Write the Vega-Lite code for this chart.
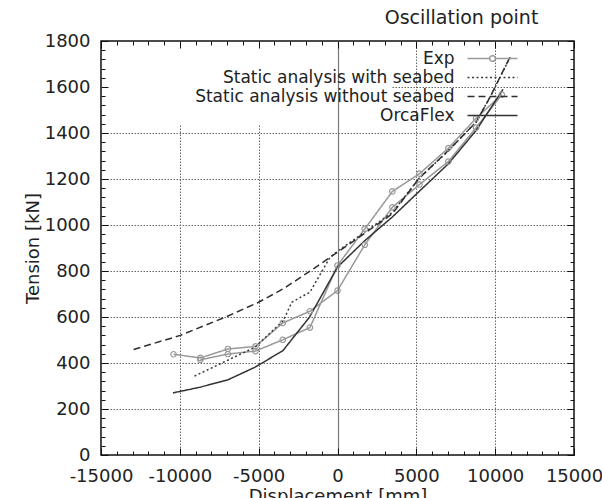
{
  "$schema": "https://vega.github.io/schema/vega-lite/v6.json",
  "width": 473,
  "height": 414,
  "autosize": {"type": "none"},
  "padding": {"left": 101, "top": 41, "right": 28, "bottom": 43},
  "background": "white",
  "title": {
    "text": "Oscillation point",
    "anchor": "middle",
    "frame": "group",
    "dx": 124,
    "offset": -11,
    "baseline": "alphabetic",
    "fontSize": 19,
    "font": "DejaVu Sans",
    "fontWeight": "normal",
    "color": "#222222"
  },
  "config": {
    "font": "DejaVu Sans",
    "view": {"stroke": "#111111", "strokeWidth": 1.5},
    "axis": {
      "labelFont": "DejaVu Sans",
      "titleFont": "DejaVu Sans",
      "labelColor": "#222222",
      "titleColor": "#222222",
      "labelFontSize": 18,
      "titleFontSize": 18,
      "titleFontWeight": "normal",
      "domain": false,
      "tickColor": "#111111",
      "tickWidth": 1,
      "labelOverlap": false,
      "labelFlush": false,
      "gridColor": "#666666",
      "gridDash": [1.5, 1.5],
      "gridWidth": 1
    }
  },
  "data": {
    "values": [
      {"s": "Exp", "i": 1, "d": -10400, "t": 438},
      {"s": "Exp", "i": 2, "d": -8700, "t": 422},
      {"s": "Exp", "i": 3, "d": -6950, "t": 461},
      {"s": "Exp", "i": 4, "d": -5200, "t": 472},
      {"s": "Exp", "i": 5, "d": -3470, "t": 574},
      {"s": "Exp", "i": 6, "d": -1750, "t": 625},
      {"s": "Exp", "i": 7, "d": 0, "t": 715},
      {"s": "Exp", "i": 8, "d": 1730, "t": 914},
      {"s": "Exp", "i": 9, "d": 3480, "t": 1077},
      {"s": "Exp", "i": 10, "d": 5200, "t": 1176},
      {"s": "Exp", "i": 11, "d": 7030, "t": 1276},
      {"s": "Exp", "i": 12, "d": 8790, "t": 1423},
      {"s": "Exp", "i": 13, "d": 10420, "t": 1567},
      {"s": "Exp", "i": 14, "d": 8790, "t": 1464},
      {"s": "Exp", "i": 15, "d": 7030, "t": 1334},
      {"s": "Exp", "i": 16, "d": 5200, "t": 1223},
      {"s": "Exp", "i": 17, "d": 3480, "t": 1146},
      {"s": "Exp", "i": 18, "d": 1730, "t": 983},
      {"s": "Exp", "i": 19, "d": 0, "t": 824},
      {"s": "Exp", "i": 20, "d": -1750, "t": 554},
      {"s": "Exp", "i": 21, "d": -3470, "t": 501},
      {"s": "Exp", "i": 22, "d": -5200, "t": 452},
      {"s": "Exp", "i": 23, "d": -6950, "t": 439},
      {"s": "Exp", "i": 24, "d": -8700, "t": 414},
      {"s": "Static analysis with seabed", "i": 1, "d": -9070, "t": 343},
      {"s": "Static analysis with seabed", "i": 2, "d": -5220, "t": 469},
      {"s": "Static analysis with seabed", "i": 3, "d": -3430, "t": 585},
      {"s": "Static analysis with seabed", "i": 4, "d": -2900, "t": 664},
      {"s": "Static analysis with seabed", "i": 5, "d": -1750, "t": 708},
      {"s": "Static analysis with seabed", "i": 6, "d": -470, "t": 860},
      {"s": "Static analysis with seabed", "i": 7, "d": 0, "t": 886},
      {"s": "Static analysis with seabed", "i": 8, "d": 1700, "t": 968},
      {"s": "Static analysis with seabed", "i": 9, "d": 3480, "t": 1055},
      {"s": "Static analysis with seabed", "i": 10, "d": 5200, "t": 1205},
      {"s": "Static analysis with seabed", "i": 11, "d": 7030, "t": 1322},
      {"s": "Static analysis with seabed", "i": 12, "d": 8790, "t": 1448},
      {"s": "Static analysis with seabed", "i": 13, "d": 9675, "t": 1556},
      {"s": "Static analysis with seabed", "i": 14, "d": 10950, "t": 1730},
      {"s": "Static analysis without seabed", "i": 1, "d": -12930, "t": 459},
      {"s": "Static analysis without seabed", "i": 2, "d": -9970, "t": 520},
      {"s": "Static analysis without seabed", "i": 3, "d": -7120, "t": 599},
      {"s": "Static analysis without seabed", "i": 4, "d": -5010, "t": 664},
      {"s": "Static analysis without seabed", "i": 5, "d": -3430, "t": 723},
      {"s": "Static analysis without seabed", "i": 6, "d": -1840, "t": 795},
      {"s": "Static analysis without seabed", "i": 7, "d": 0, "t": 882},
      {"s": "Static analysis without seabed", "i": 8, "d": 1690, "t": 962},
      {"s": "Static analysis without seabed", "i": 9, "d": 3480, "t": 1049},
      {"s": "Static analysis without seabed", "i": 10, "d": 5200, "t": 1205},
      {"s": "Static analysis without seabed", "i": 11, "d": 7030, "t": 1324},
      {"s": "Static analysis without seabed", "i": 12, "d": 8790, "t": 1447},
      {"s": "Static analysis without seabed", "i": 13, "d": 9675, "t": 1556},
      {"s": "Static analysis without seabed", "i": 14, "d": 10940, "t": 1730},
      {"s": "OrcaFlex", "i": 1, "d": -10440, "t": 270},
      {"s": "OrcaFlex", "i": 2, "d": -8700, "t": 295},
      {"s": "OrcaFlex", "i": 3, "d": -6950, "t": 327},
      {"s": "OrcaFlex", "i": 4, "d": -5220, "t": 382},
      {"s": "OrcaFlex", "i": 5, "d": -3460, "t": 454},
      {"s": "OrcaFlex", "i": 6, "d": -1780, "t": 599},
      {"s": "OrcaFlex", "i": 7, "d": 0, "t": 817},
      {"s": "OrcaFlex", "i": 8, "d": 1700, "t": 930},
      {"s": "OrcaFlex", "i": 9, "d": 3480, "t": 1035},
      {"s": "OrcaFlex", "i": 10, "d": 5240, "t": 1150},
      {"s": "OrcaFlex", "i": 11, "d": 7030, "t": 1266},
      {"s": "OrcaFlex", "i": 12, "d": 8790, "t": 1411},
      {"s": "OrcaFlex", "i": 13, "d": 10500, "t": 1590}
    ]
  },
  "layer": [
    {
      "mark": {"type": "line", "strokeWidth": 1.5},
      "encoding": {
        "x": {
          "field": "d", "type": "quantitative",
          "scale": {"domain": [-15000, 15000], "nice": false, "zero": false},
          "axis": {
            "orient": "bottom",
            "title": "Displacement [mm]",
            "titlePadding": -1,
            "zindex": 1,
            "grid": false,
            "values": [-15000,-14000,-13000,-12000,-11000,-10000,-9000,-8000,-7000,-6000,-5000,-4000,-3000,-2000,-1000,0,1000,2000,3000,4000,5000,6000,7000,8000,9000,10000,11000,12000,13000,14000,15000],
            "labelExpr": "datum.value % 5000 === 0 ? '' + datum.value : ''",
            "labelPadding": 19,
            "tickSize": {"condition": {"test": "datum.value % 5000 === 0", "value": -7}, "value": -4}
          }
        },
        "y": {
          "field": "t", "type": "quantitative",
          "scale": {"domain": [0, 1800], "nice": false},
          "axis": {
            "orient": "left",
            "title": "Tension [kN]",
            "titlePadding": 2,
            "zindex": 1,
            "grid": false,
            "values": [0,40,80,120,160,200,240,280,320,360,400,440,480,520,560,600,640,680,720,760,800,840,880,920,960,1000,1040,1080,1120,1160,1200,1240,1280,1320,1360,1400,1440,1480,1520,1560,1600,1640,1680,1720,1760,1800],
            "labelExpr": "datum.value % 200 === 0 ? '' + datum.value : ''",
            "labelPadding": 18,
            "tickSize": {"condition": {"test": "datum.value % 200 === 0", "value": -7}, "value": -4}
          }
        },
        "color": {
          "field": "s", "type": "nominal",
          "scale": {
            "domain": ["Exp", "Static analysis with seabed", "Static analysis without seabed", "OrcaFlex"],
            "range": ["#999999", "#3a3a3a", "#2e2e2e", "#333333"]
          },
          "legend": {
            "title": null,
            "orient": "none",
            "legendX": 8,
            "legendY": 3,
            "zindex": 1,
            "padding": 6,
            "labelAlign": "right",
            "labelOffset": -46.5,
            "symbolOffset": 369,
            "labelLimit": 600,
            "labelFont": "DejaVu Sans",
            "labelFontSize": 17,
            "labelColor": "#222222",
            "symbolSize": 100,
            "symbolStrokeWidth": 1.5,
            "rowPadding": 1,
            "labelExpr": "'\u00a0\u00a0\u00a0\u00a0\u00a0\u00a0\u00a0\u00a0\u00a0\u00a0\u00a0\u00a0\u00a0\u00a0' + datum.label",
            "encode": {
              "symbols": {
                "update": {
                  "shape": {"signal": "datum.value === 'Exp' ? 'M-5,0H-0.57M0.57,0H5M0.57,0A0.57,0.57,0,1,1,-0.57,0A0.57,0.57,0,1,1,0.57,0' : 'M-5,0H5'"},
                  "strokeDash": {"scale": "strokeDash", "field": "value"},
                  "fill": {"value": "transparent"}
                }
              }
            }
          }
        },
        "strokeDash": {
          "field": "s", "type": "nominal",
          "scale": {
            "domain": ["Exp", "Static analysis with seabed", "Static analysis without seabed", "OrcaFlex"],
            "range": [[1, 0], [2, 2.5], [7, 4], [1, 0]]
          },
          "legend": {
            "title": null,
            "orient": "top-left",
            "offset": 1.5,
            "zindex": 0,
            "padding": 4,
            "fillColor": "white",
            "symbolOpacity": 0,
            "labelOpacity": 0,
            "symbolSize": 4,
            "labelLimit": 800,
            "labelFont": "DejaVu Sans",
            "labelFontSize": 17,
            "rowPadding": 1,
            "labelExpr": "'\u00a0\u00a0\u00a0\u00a0\u00a0\u00a0\u00a0\u00a0\u00a0\u00a0\u00a0\u00a0\u00a0\u00a0' + datum.label",
            "encode": {
              "symbols": {"update": {"opacity": {"value": 0}}},
              "labels": {"update": {"opacity": {"value": 0}}}
            }
          }
        },
        "order": {"field": "i", "type": "quantitative"}
      }
    },
    {
      "transform": [{"filter": "datum.s === 'Exp'"}],
      "mark": {"type": "point", "shape": "circle", "filled": false, "size": 30, "strokeWidth": 1.2, "color": "#999999", "opacity": 1},
      "encoding": {
        "x": {
          "field": "d", "type": "quantitative",
          "axis": {
            "orient": "bottom", "title": null, "labels": false, "ticks": false, "zindex": 0,
            "values": [-10000, -5000, 5000, 10000],
            "grid": true
          }
        },
        "y": {
          "field": "t", "type": "quantitative",
          "axis": {
            "orient": "left", "title": null, "labels": false, "ticks": false, "zindex": 0,
            "values": [200, 400, 600, 800, 1000, 1200, 1400, 1600],
            "grid": true
          }
        }
      }
    },
    {
      "mark": {"type": "point", "opacity": 0},
      "encoding": {
        "x": {
          "field": "d", "type": "quantitative",
          "axis": {
            "orient": "top", "title": null, "labels": false, "zindex": 1,
            "minExtent": 0, "maxExtent": 0,
            "values": [-15000,-14000,-13000,-12000,-11000,-10000,-9000,-8000,-7000,-6000,-5000,-4000,-3000,-2000,-1000,0,1000,2000,3000,4000,5000,6000,7000,8000,9000,10000,11000,12000,13000,14000,15000],
            "tickSize": {"condition": {"test": "datum.value % 5000 === 0", "value": -7}, "value": -4},
            "grid": true,
            "gridDash": [],
            "gridColor": "#7a7a7a",
            "gridWidth": 1.2,
            "gridOpacity": {"condition": {"test": "datum.value === 0", "value": 1}, "value": 0}
          }
        },
        "y": {
          "field": "t", "type": "quantitative",
          "axis": {
            "orient": "right", "title": null, "labels": false, "zindex": 1, "grid": false,
            "minExtent": 0, "maxExtent": 0,
            "values": [0,40,80,120,160,200,240,280,320,360,400,440,480,520,560,600,640,680,720,760,800,840,880,920,960,1000,1040,1080,1120,1160,1200,1240,1280,1320,1360,1400,1440,1480,1520,1560,1600,1640,1680,1720,1760,1800],
            "tickSize": {"condition": {"test": "datum.value % 200 === 0", "value": -7}, "value": -4}
          }
        }
      }
    }
  ],
  "resolve": {"axis": {"x": "independent", "y": "independent"}}
}
